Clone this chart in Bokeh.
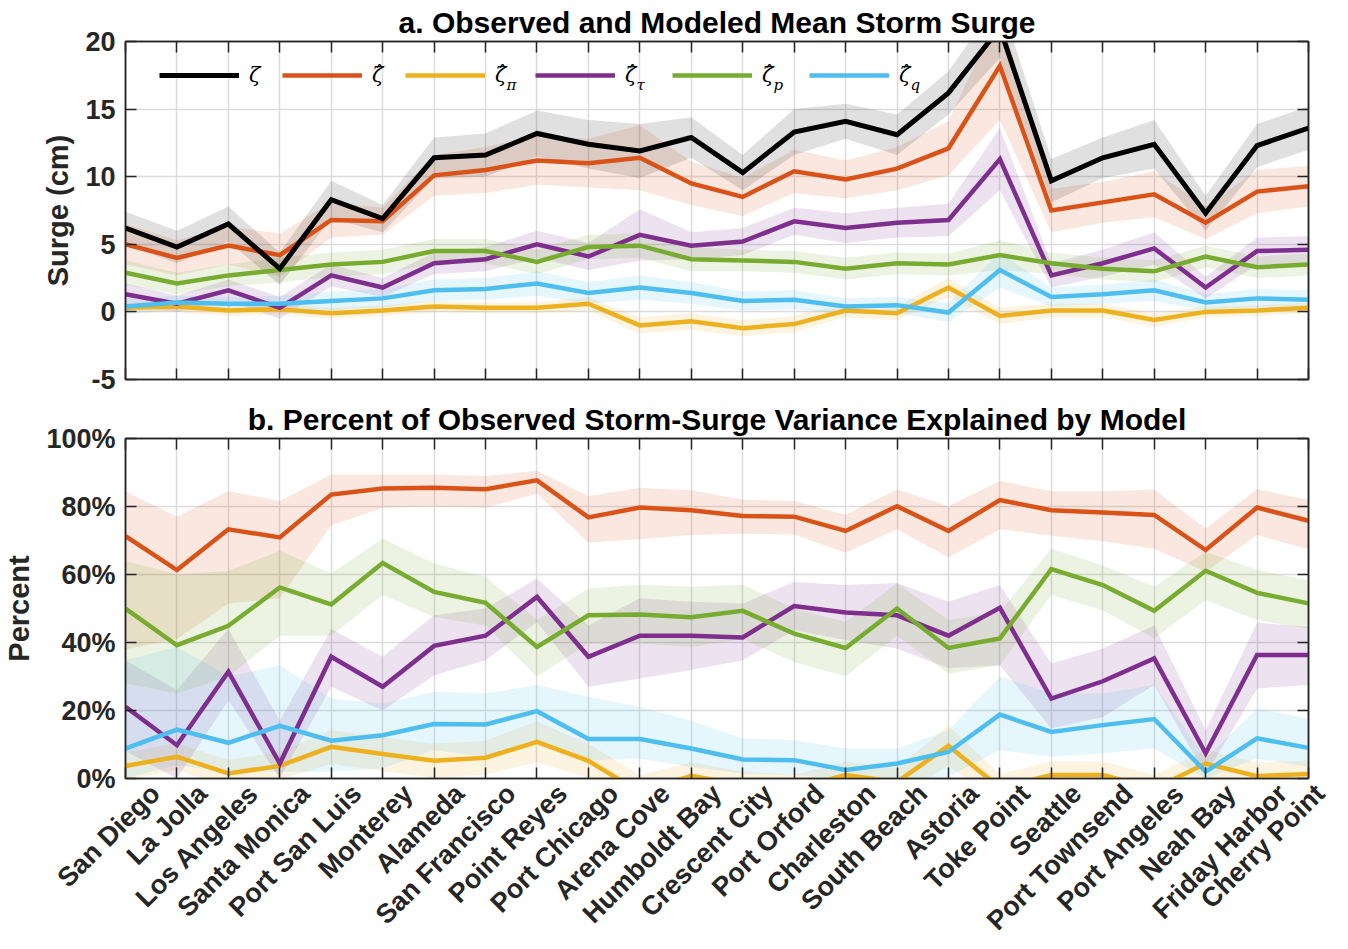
import math
from bokeh.plotting import figure
from bokeh.models import (Range1d, FixedTicker, LinearAxis, CustomJSTickFormatter,
                          PrintfTickFormatter, Legend, LegendItem, Label)
from bokeh.layouts import column
from bokeh.embed import file_html
from bokeh.resources import INLINE

# ---------------- data ----------------
stations = ["San Diego", "La Jolla", "Los Angeles", "Santa Monica", "Port San Luis",
            "Monterey", "Alameda", "San Francisco", "Point Reyes", "Port Chicago",
            "Arena Cove", "Humboldt Bay", "Crescent City", "Port Orford", "Charleston",
            "South Beach", "Astoria", "Toke Point", "Seattle", "Port Townsend",
            "Port Angeles", "Neah Bay", "Friday Harbor", "Cherry Point"]

# panel a: mean storm surge (cm) and band half-widths
surge_obs = [6.2, 4.8, 6.5, 3.2, 8.3, 6.9, 11.4, 11.6, 13.2, 12.4, 11.9, 12.9,
             10.3, 13.3, 14.1, 13.1, 16.2, 21.0, 9.7, 11.4, 12.4, 7.3, 12.3, 13.6]
surge_mod = [5.0, 4.0, 4.9, 4.2, 6.8, 6.7, 10.1, 10.5, 11.2, 11.0, 11.4, 9.5,
             8.5, 10.4, 9.8, 10.6, 12.1, 18.2, 7.5, 8.1, 8.7, 6.6, 8.9, 9.3]
surge_pi = [0.3, 0.4, 0.1, 0.2, -0.1, 0.1, 0.4, 0.3, 0.3, 0.6, -1.0, -0.7,
            -1.2, -0.9, 0.1, -0.1, 1.8, -0.3, 0.1, 0.1, -0.6, 0.0, 0.1, 0.3]
surge_tau = [1.3, 0.6, 1.6, 0.3, 2.7, 1.8, 3.6, 3.9, 5.0, 4.1, 5.7, 4.9,
             5.2, 6.7, 6.2, 6.6, 6.8, 11.3, 2.7, 3.6, 4.7, 1.8, 4.5, 4.6]
surge_p = [2.9, 2.1, 2.7, 3.1, 3.5, 3.7, 4.5, 4.5, 3.7, 4.8, 4.9, 3.9,
           3.8, 3.7, 3.2, 3.6, 3.5, 4.2, 3.6, 3.2, 3.0, 4.1, 3.3, 3.5]
surge_q = [0.4, 0.7, 0.6, 0.6, 0.8, 1.0, 1.6, 1.7, 2.1, 1.4, 1.8, 1.4,
           0.8, 0.9, 0.4, 0.5, -0.05, 3.1, 1.1, 1.3, 1.6, 0.7, 1.0, 0.9]

err_obs = [1.2, 1.2, 1.3, 1.2, 1.4, 1.0, 1.5, 1.6, 1.7, 1.8, 2.0, 1.5,
           1.3, 1.7, 1.3, 1.5, 1.6, 2.2, 1.6, 1.5, 1.8, 1.3, 1.6, 1.6]
err_mod = [1.5, 1.3, 1.4, 1.6, 1.3, 1.0, 1.5, 1.7, 1.8, 1.8, 2.4, 1.6,
           1.4, 1.6, 1.4, 1.6, 2.0, 4.0, 1.6, 1.5, 1.7, 1.2, 1.6, 1.5]
err_pi = [0.4, 0.4, 0.4, 0.4, 0.4, 0.4, 0.4, 0.4, 0.4, 0.5, 0.6, 0.6,
          0.6, 0.6, 0.5, 0.5, 0.7, 0.6, 0.5, 0.5, 0.5, 0.4, 0.4, 0.4]
err_tau = [0.8, 0.6, 0.8, 0.8, 0.8, 0.7, 0.8, 0.9, 1.0, 1.0, 1.9, 1.0,
           1.0, 1.0, 1.1, 1.1, 1.2, 2.3, 0.9, 1.0, 1.2, 0.8, 1.0, 1.0]
err_p = [0.9, 0.8, 0.8, 0.9, 0.9, 0.9, 0.9, 0.9, 0.9, 0.9, 0.9, 0.9,
         0.8, 0.8, 0.8, 0.8, 0.8, 1.1, 0.8, 0.8, 0.8, 0.8, 0.8, 0.8]
err_q = [0.6, 0.5, 0.5, 0.6, 0.7, 0.7, 0.8, 0.8, 0.9, 0.8, 0.9, 0.8,
         0.7, 0.7, 0.6, 0.6, 0.7, 1.3, 0.7, 0.7, 0.8, 0.6, 0.7, 0.7]

# panel b: percent of variance explained, with band limits
pct_mod = [71.3, 61.3, 73.3, 70.9, 83.5, 85.3, 85.5, 85.1, 87.7, 76.8, 79.7, 78.9,
           77.2, 77.0, 72.8, 80.1, 72.8, 81.9, 78.9, 78.2, 77.5, 67.2, 79.7, 75.8]
pct_mod_lo = [38, 41, 51.5, 53, 74.5, 79.6, 80, 79.6, 83.8, 69.4, 70.4, 71.6,
              72, 71.8, 66.4, 73.3, 65, 73.3, 71.4, 69.8, 67.6, 60.8, 71.6, 67.4]
pct_mod_hi = [84.5, 77, 84.5, 81.6, 89.4, 89.4, 89.4, 89, 90.5, 83, 85.5, 84.8,
              82, 81.6, 77.6, 85, 80.1, 87.5, 84.5, 84.5, 85, 73.5, 85.1, 81.9]
pct_p = [50.0, 39.2, 44.9, 56.2, 51.2, 63.4, 54.9, 51.7, 38.7, 48.0, 48.2, 47.4,
         49.3, 42.6, 38.4, 50.0, 38.4, 41.2, 61.6, 56.9, 49.3, 61.1, 54.6, 51.5]
pct_p_lo = [28, 25, 30, 42, 42, 54, 47.5, 45, 30, 39.7, 39.7, 38.7,
            41, 34.3, 30, 42, 30.9, 33.3, 54, 49.5, 41.2, 52.5, 46.6, 44.1]
pct_p_hi = [64, 60, 61, 67, 60.3, 70.6, 63.2, 59.3, 46.6, 55.9, 57, 56.4,
            57, 50, 46, 57.4, 46.6, 49, 67.6, 62.7, 56.4, 66.7, 61.3, 58.3]
pct_tau = [21.1, 9.8, 31.4, 4.4, 35.8, 27.0, 39.0, 42.0, 53.4, 35.8, 42.0, 42.0,
           41.5, 50.7, 48.8, 48.0, 42.0, 50.2, 23.5, 28.6, 35.3, 7.4, 36.3, 36.3]
pct_tau_lo = [8, 0, 23, 0, 27, 20, 30.4, 34.8, 46, 27, 29.4, 31.9,
              34.8, 43.6, 40.7, 38.2, 32.4, 33.3, 14.7, 18.1, 27.5, 1, 26.5, 27.5]
pct_tau_hi = [34.8, 26, 44, 17, 44, 35.8, 48, 50, 58.8, 45, 53, 52,
              51.5, 57.8, 56.9, 57.5, 52, 56.9, 33.8, 38.2, 45, 14.2, 45.8, 44.6]
pct_q = [8.8, 14.4, 10.5, 15.5, 11.1, 12.7, 16.0, 15.9, 19.8, 11.6, 11.6, 8.8,
         5.6, 5.4, 2.5, 4.4, 7.8, 18.8, 13.7, 15.7, 17.5, 2.0, 11.8, 9.0]
pct_q_lo = [0, 4, 2, 2, 2, 3, 8.3, 6.4, 10.8, 5.4, 5.9, 3.4,
            1.5, 1, 0, 0, 0.5, 8.3, 6.4, 7.4, 8.8, 0, 5.9, 3.4]
pct_q_hi = [34.8, 38.7, 30, 33.3, 23.5, 22, 25.5, 25, 27.5, 24, 21, 17,
            11.8, 11.3, 8.8, 8.8, 14.2, 30, 25, 25, 27.5, 5.9, 20.6, 17.6]
pct_pi = [3.7, 6.4, 1.5, 3.7, 9.3, 7.2, 5.2, 6.1, 10.8, 5.2, -4.0, 0.8,
          -2.0, -3.0, 1.0, -1.0, 9.6, -2.7, 1.0, 1.0, -3.0, 4.4, 0.7, 1.3]
pct_pi_err = [4, 4, 4, 4, 5, 5, 5, 5, 6, 5, 5, 4, 4, 4, 4, 4, 6, 4, 4, 4, 4, 4, 4, 4]

# legend symbols: base, has hat, subscript
legend_entries = [("ζ", False, ""), ("ζ", True, ""), ("ζ", True, "π"),
                  ("ζ", True, "τ"), ("ζ", True, "p"), ("ζ", True, "q")]

# ---------------- style ----------------
FONT = "Liberation Sans"
MATHFONT = "DejaVu Serif"
TXT = "#262626"
C_OBS, C_MOD, C_PI, C_TAU, C_P, C_Q = "#000000", "#D95319", "#EDB120", "#7E2F8E", "#77AC30", "#4DBEEE"
BAND_ALPHA = 0.14
LW = 4.5
NST = len(stations)
x = list(range(NST))


def blank():
    return CustomJSTickFormatter(code="return ''")


def style_axis(ax, show_labels=True):
    ax.major_tick_in = 11
    ax.major_tick_out = 0
    ax.minor_tick_line_color = None
    ax.major_tick_line_color = TXT
    ax.major_tick_line_width = 1.5
    ax.axis_line_color = TXT
    ax.axis_line_width = 1.5
    ax.major_label_text_font = FONT
    ax.major_label_text_font_style = "bold"
    ax.major_label_text_color = TXT
    ax.major_label_text_font_size = "27px" if show_labels else "0px"
    ax.major_label_standoff = 10 if show_labels else 0
    ax.axis_label_text_font = FONT
    ax.axis_label_text_font_style = "bold"
    ax.axis_label_text_font_size = "29px"
    ax.axis_label_text_color = TXT


def make_fig(title, yr, yticks, fh, top, bottom, ylabel, yfmt=None, overrides=None):
    p = figure(frame_width=1183, frame_height=fh, x_range=Range1d(0, NST - 1),
               y_range=yr, output_backend="svg", toolbar_location=None,
               min_border_left=125, min_border_right=22, min_border_top=top,
               min_border_bottom=bottom)
    p.title.text = title
    p.title.align = "center"
    p.title.text_font = FONT
    p.title.text_font_size = "30px"
    p.title.text_font_style = "bold"
    p.title.text_color = "#000000"
    p.title.offset = 0
    p.title.standoff = 6
    p.outline_line_color = TXT
    p.outline_line_width = 1.5
    p.outline_line_alpha = 1
    p.xgrid.ticker = FixedTicker(ticks=x)
    p.ygrid.ticker = FixedTicker(ticks=yticks)
    for g in (p.xgrid, p.ygrid):
        g.grid_line_color = "#dcdcdc"
        g.grid_line_width = 1.5
    xb = p.below[0]
    yl = p.left[0]
    xb.ticker = FixedTicker(ticks=x)
    xb.formatter = blank()
    yl.ticker = FixedTicker(ticks=yticks)
    yl.axis_label = ylabel
    if yfmt is not None:
        yl.formatter = yfmt
    if overrides:
        yl.major_label_overrides = overrides
    yr_ax = LinearAxis(ticker=FixedTicker(ticks=yticks), formatter=blank())
    xt_ax = LinearAxis(ticker=FixedTicker(ticks=x), formatter=blank())
    p.add_layout(yr_ax, "right")
    p.add_layout(xt_ax, "above")
    style_axis(yl, True)
    yl.axis_label_standoff = 8
    for ax in (xb, yr_ax, xt_ax):
        style_axis(ax, False)
    return p, xb


# ---------------- panel a ----------------
FH_A = 338
pa, _ = make_fig("a. Observed and Modeled Mean Storm Surge", Range1d(-5, 20),
                 [-5, 0, 5, 10, 15, 20], FH_A, 36, 17, "Surge (cm)",
                 overrides={-5: "-5"})

series_a = [
    (surge_mod, err_mod, C_MOD),
    (surge_pi, err_pi, C_PI),
    (surge_tau, err_tau, C_TAU),
    (surge_p, err_p, C_P),
    (surge_q, err_q, C_Q),
    (surge_obs, err_obs, C_OBS),
]
for vals, err, col in series_a:
    lo = [v - e for v, e in zip(vals, err)]
    hi = [v + e for v, e in zip(vals, err)]
    pa.varea(x=x, y1=lo, y2=hi, fill_color=col,
             fill_alpha=BAND_ALPHA if col != C_OBS else 0.12)
rend = {}
for vals, err, col in series_a:
    rend[col] = pa.line(x, vals, line_color=col,
                        line_width=LW + (0.5 if col == C_OBS else 0), line_join="miter")

# legend: one single-item legend per entry, placed along the top of panel a
legend_cols = [C_OBS, C_MOD, C_PI, C_TAU, C_P, C_Q]
legend_x = [34, 157, 280, 410, 547, 684]       # screen px from frame left
ROW_C = FH_A - 34                                # row centre, px from frame bottom
GLYPH_H = 26
for (base, hat, sub), col, lx in zip(legend_entries, legend_cols, legend_x):
    lg = Legend(items=[LegendItem(label=base, renderers=[rend[col]])],
                location=(lx, ROW_C - GLYPH_H / 2), orientation="horizontal",
                glyph_width=80, glyph_height=GLYPH_H, label_standoff=10, padding=0,
                margin=0, label_width=0, spacing=0,
                background_fill_alpha=0, border_line_alpha=0,
                label_text_font=MATHFONT, label_text_font_style="italic",
                label_text_font_size="21px", label_text_color="#000000")
    pa.add_layout(lg)
    tx = lx + 90
    if hat:
        pa.add_layout(Label(x=tx + 7, y=ROW_C + 2, x_units="screen", y_units="screen",
                            text="ˆ", text_align="center", text_baseline="alphabetic",
                            text_font=MATHFONT, text_font_size="20px",
                            text_color="#000000"))
    if sub:
        pa.add_layout(Label(x=tx + 11, y=ROW_C - 9, x_units="screen", y_units="screen",
                            text=sub, text_align="left", text_baseline="alphabetic",
                            text_font=MATHFONT, text_font_style="italic",
                            text_font_size="15px", text_color="#000000"))

# ---------------- panel b ----------------
pb, xbb = make_fig("b. Percent of Observed Storm-Surge Variance Explained by Model",
                   Range1d(0, 100), [0, 20, 40, 60, 80, 100], 340, 42, 160, "Percent",
                   yfmt=PrintfTickFormatter(format="%d%%"))

series_b = [
    (pct_mod, pct_mod_lo, pct_mod_hi, C_MOD),
    (pct_pi, [v - e for v, e in zip(pct_pi, pct_pi_err)],
     [v + e for v, e in zip(pct_pi, pct_pi_err)], C_PI),
    (pct_tau, pct_tau_lo, pct_tau_hi, C_TAU),
    (pct_p, pct_p_lo, pct_p_hi, C_P),
    (pct_q, pct_q_lo, pct_q_hi, C_Q),
]
for vals, lo, hi, col in series_b:
    pb.varea(x=x, y1=lo, y2=hi, fill_color=col, fill_alpha=BAND_ALPHA)
for vals, lo, hi, col in series_b:
    pb.line(x, vals, line_color=col, line_width=LW, line_join="miter")

# rotated station names under panel b (two leading empty lines nudge each
# name down-right of its tick, as in the original layout)
xbb.major_label_text_font_size = "27px"
xbb.major_label_overrides = {i: "\n\n" + s for i, s in enumerate(stations)}
xbb.major_label_orientation = math.pi / 4
xbb.major_label_standoff = -15

layout = column(pa, pb, spacing=0)
open("out.html", "w").write(file_html(layout, INLINE))
